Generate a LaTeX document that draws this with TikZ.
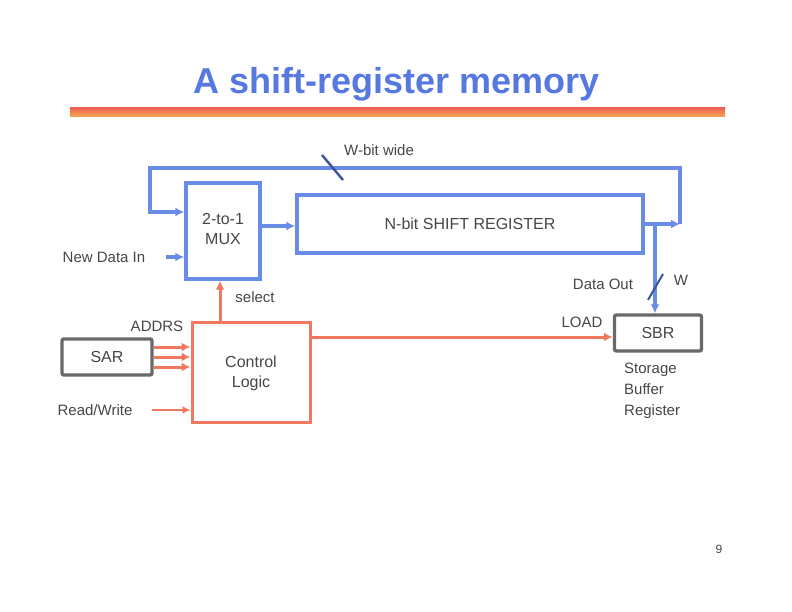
\documentclass[tikz,border=0pt]{standalone}
\usepackage{fontspec}
\setmainfont{Liberation Sans}
\usetikzlibrary{arrows.meta}
\definecolor{bl}{RGB}{105,140,230}
\definecolor{tb}{RGB}{85,120,225}
\definecolor{orr}{RGB}{240,120,95}
\definecolor{gr}{RGB}{105,105,105}
\definecolor{tx}{RGB}{70,70,70}
\tikzset{
  blbox/.style={draw=bl,line width=3.4pt,fill=white,inner sep=0pt},
  orbox/.style={draw=orr,line width=3pt,fill=white,inner sep=0pt},
  grbox/.style={draw=gr,line width=3.4pt,fill=white,inner sep=0pt,rounded corners=2pt},
  blline/.style={draw=bl,line width=3.4pt,-{Latex[length=9pt,width=9pt]}},
  orline/.style={draw=orr,line width=3pt,-{Latex[length=9pt,width=9pt]}},
  lbl/.style={text=tx,font=\fontsize{15}{17}\selectfont,inner sep=1pt},
  boxlbl/.style={text=tx,font=\fontsize{16}{20}\selectfont,align=center},
}
\begin{document}
\begin{tikzpicture}[x=1pt,y=-1pt]
\useasboundingbox (0,0) rectangle (792,612);
% title
\node[text=tb,font=\fontsize{36}{40}\selectfont\bfseries] (title) at (397,84) {A shift-register memory};
\shade[top color={rgb,255:red,238;green,100;blue,85},bottom color={rgb,255:red,245;green,170;blue,80}] (70,108) rectangle (725,117);
% boxes
\node[blbox,minimum width=74pt,minimum height=96pt] (mux) at (223,231) {};
\node[boxlbl] at (223,229) {2-to-1\\MUX};
\node[blbox,minimum width=346pt,minimum height=58pt,boxlbl] (reg) at (470,224) {N-bit SHIFT REGISTER};
\node[orbox,minimum width=118pt,minimum height=100pt] (ctrl) at (251,372) {};
\node[boxlbl] at (251,373) {Control\\Logic};
\node[grbox,minimum width=90pt,minimum height=36pt,boxlbl] (sar) at (107,357) {SAR};
\node[grbox,minimum width=87pt,minimum height=36pt,boxlbl] (sbr) at (658,333) {SBR};
% coordinates
\coordinate (rc) at (680,224);
\coordinate (lc) at (150,168);
\coordinate (dj) at (655,224);
% blue connectors
\draw[blline] (mux.east |- 0,226) -- (reg.west |- 0,226);
\draw[blline] (reg.east |- rc) -- (rc);
\draw[blline] (rc) |- (lc) |- (mux.west |- 0,212);
\draw[blline] (dj) -- (sbr.north -| dj);
\node[lbl] (ndi) at (104,257) {New Data In};
\draw[blline] (ndi.east -| 166,0) -- (mux.west |- ndi.east);
% slashes and labels
\draw[draw=tb!70!black,line width=2.4pt] (322,155) -- (343,180);
\node[lbl] (wbit) at (379,150) {W-bit wide};
\draw[draw=tb!70!black,line width=2pt] (648,300) -- (663,274);
\node[lbl] (w) at (681,280) {W};
\node[lbl] (dout) at (603,284) {Data Out};
% orange connectors
\draw[orline] (ctrl.north -| 220,0) -- (mux.south -| 220,0);
\node[lbl] (sel) at (255,297) {select};
\node[lbl] (addrs) at (157,326) {ADDRS};
\draw[orline] (sar.east |- 0,347) -- (ctrl.west |- 0,347);
\draw[orline] (sar.east |- 0,357) -- (ctrl.west |- 0,357);
\draw[orline] (sar.east |- 0,367) -- (ctrl.west |- 0,367);
\node[lbl] (rw) at (95,410) {Read/Write};
\draw[draw=orr,line width=1.8pt,-{Latex[length=8pt,width=8pt]}] (rw.east -| 152,0) -- (ctrl.west |- rw.east);
\draw[orline] (ctrl.east |- 0,337) -- (sbr.west |- 0,337);
\node[lbl] (load) at (582,322) {LOAD};
\node[lbl,align=left,anchor=north west,font=\fontsize{15}{21}\selectfont] (sbrtxt) at (623,362) {Storage\\Buffer\\Register};
\node[text=tx,font=\fontsize{12}{14}\selectfont] (pg) at (719,549) {9};
\end{tikzpicture}
\end{document}
